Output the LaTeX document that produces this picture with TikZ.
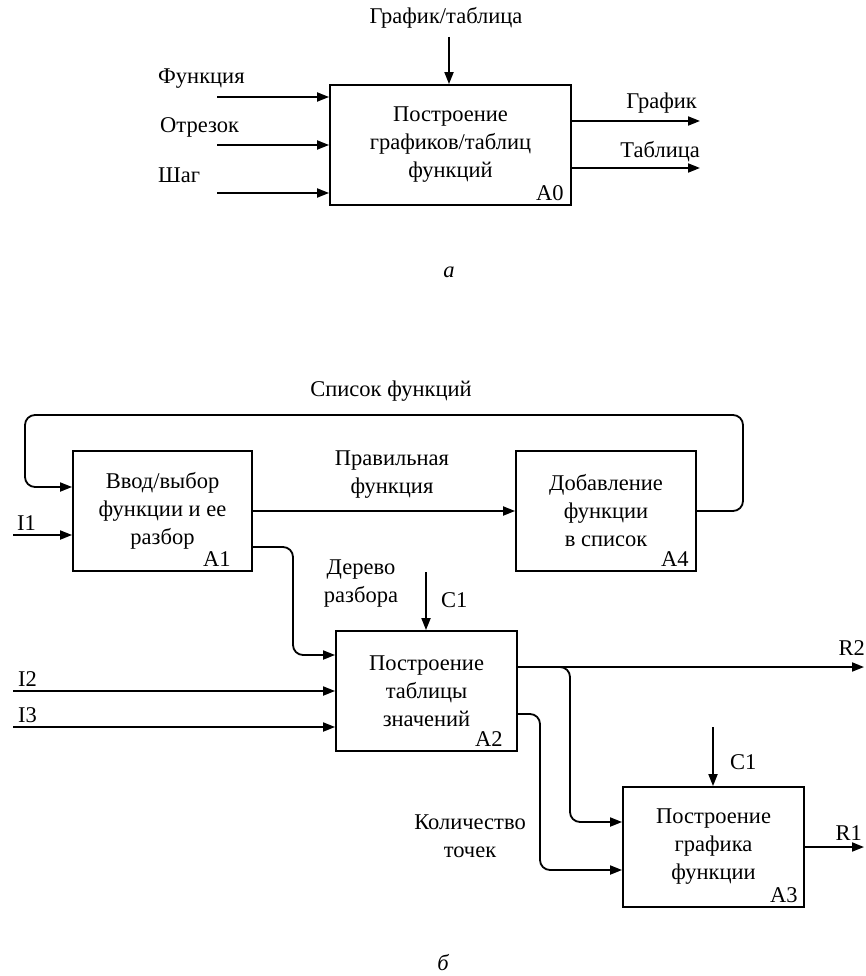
\documentclass[tikz,border=0pt]{standalone}
\usepackage{fontspec}
\setmainfont{Liberation Serif}
\usetikzlibrary{arrows.meta}
\begin{document}
\begin{tikzpicture}[x=1pt,y=-1pt,
  every node/.style={font=\fontsize{22.5}{28}\selectfont, inner sep=0pt},
  box/.style={draw, line width=1.8pt, minimum height=120pt, align=center},
  lbl/.style={anchor=base east},
  arr/.style={line width=1.8pt, -{Triangle[length=12pt,width=9pt]}},
  rc/.style={rounded corners=10pt}]
\path[use as bounding box] (0,0) rectangle (865,976);

% ---------- diagram a ----------
\node[box, minimum width=241pt] (A0) at (450.5,145) {Построение\\графиков/таблиц\\функций};
\node[lbl] at ([xshift=-8pt,yshift=5pt]A0.south east) {A0};
\node (gt) at (446,18) {График/таблица};
\coordinate (c0) at (449,37);
\draw[arr] (c0) -- (c0 |- A0.north);
\node[anchor=west] (lf) at (158,79) {Функция};
\node[anchor=west] (lo) at (160,127) {Отрезок};
\node[anchor=west] (lsh) at (158,175) {Шаг};
\coordinate (i1a) at (217,97);
\coordinate (i2a) at (217,145);
\coordinate (i3a) at (217,193);
\draw[arr] (i1a) -- (i1a -| A0.west);
\draw[arr] (i2a) -- (i2a -| A0.west);
\draw[arr] (i3a) -- (i3a -| A0.west);
\coordinate (o1a) at (700,121);
\coordinate (o2a) at (700,168);
\draw[arr] (o1a -| A0.east) -- (o1a);
\draw[arr] (o2a -| A0.east) -- (o2a);
\node[anchor=east] (lg) at (697,103) {График};
\node[anchor=east] (lt) at (700,152) {Таблица};
\node[font=\fontsize{22.5}{28}\selectfont\itshape] (capa) at (449,272) {а};

% ---------- diagram b ----------
\node[box, minimum width=179pt] (A1) at (162.5,511) {Ввод/выбор\\функции и ее\\разбор};
\node[lbl] at ([xshift=-22pt,yshift=5pt]A1.south east) {A1};
\node[box, minimum width=180pt] (A4) at (606,511) {Добавление\\функции\\в список};
\node[lbl] at ([xshift=-8pt,yshift=5pt]A4.south east) {A4};
\node[box, minimum width=181pt] (A2) at (426.5,691) {Построение\\таблицы\\значений};
\node[lbl] at ([xshift=-15pt,yshift=5pt]A2.south east) {A2};
\node[box, minimum width=181pt] (A3) at (713.5,847) {Построение\\графика\\функции};
\node[lbl] at ([xshift=-7pt,yshift=5pt]A3.south east) {A3};

% feedback loop
\node (lsf) at (391,391) {Список функций};
\coordinate (lr) at (743,415);
\coordinate (ll) at (25,415);
\coordinate (lin) at (25,487);
\draw[arr, rc] (A4.east) -- (A4.east -| lr) -- (lr) -- (ll) -- (lin) -- (lin -| A1.west);

% I1
\coordinate (i1) at (13,535);
\draw[arr] (i1) -- (i1 -| A1.west);
\node[anchor=west] at (17,523) {I1};

% A1 -> A4
\draw[arr] (A1.east) -- (A4.west);
\node[align=center] at (392,475) {Правильная\\функция};

% A1 -> A2
\coordinate (t0) at (0,547);
\coordinate (tv) at (293,655);
\draw[arr, rc] (A1.east |- t0) -- (tv |- t0) -- (tv) -- (tv -| A2.west);
\node[align=center] at (361,584) {Дерево\\разбора};

% C1 -> A2
\coordinate (c1a) at (426,572);
\draw[arr] (c1a) -- (c1a |- A2.north);
\node[anchor=west] at (441,600) {C1};

% I2, I3
\coordinate (i2) at (13,691);
\coordinate (i3) at (13,727);
\draw[arr] (i2) -- (i2 -| A2.west);
\draw[arr] (i3) -- (i3 -| A2.west);
\node[anchor=west] at (18,679) {I2};
\node[anchor=west] at (18,715) {I3};

% R2 and branch to A3
\coordinate (r2) at (864,667);
\draw[arr] (A2.east |- r2) -- (r2);
\node[anchor=east] at (865,648) {R2};
\coordinate (bv) at (570,822);
\draw[arr, rc] (A2.east |- r2) -- (bv |- r2) -- (bv) -- (bv -| A3.west);

% A2 -> A3 (number of points)
\coordinate (k0) at (0,714);
\coordinate (kv) at (540,870);
\draw[arr, rc] (A2.east |- k0) -- (kv |- k0) -- (kv) -- (kv -| A3.west);
\node[align=center] at (470,836) {Количество\\точек};

% C1 -> A3
\coordinate (c1b) at (713,727);
\draw[arr] (c1b) -- (c1b |- A3.north);
\node[anchor=west] at (730,762) {C1};

% R1
\coordinate (r1) at (864,847);
\draw[arr] (A3.east) -- (r1);
\node[anchor=east] at (862,833) {R1};

\node[font=\fontsize{22.5}{28}\selectfont\itshape] (capb) at (443,963) {б};
\end{tikzpicture}
\end{document}
